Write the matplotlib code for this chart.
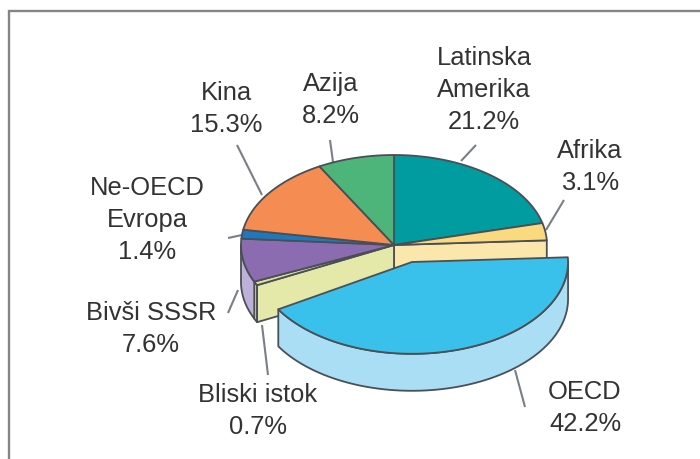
import numpy as np
import matplotlib
matplotlib.use("Agg")
import matplotlib.pyplot as plt
from matplotlib.patches import Polygon

names = ["Latinska\nAmerika", "Afrika", "OECD", "Bliski istok", "Bivši SSSR", "Ne-OECD\nEvropa", "Kina", "Azija"]
values = [21.2, 3.1, 42.2, 0.7, 7.6, 1.4, 15.3, 8.2]
# slice sizes as actually drawn in the picture (they differ a little from the printed percentages)
drawn_shares = [21.1, 3.1, 43.5, 0.7, 7.8, 1.6, 14.2, 8.1]
top_colors = ["#019C9F", "#FBD97F", "#39C1EC", "#DDE19A", "#8B6CB0", "#1F78BE", "#F58D52", "#4DB57A"]
side_colors = ["#7FCFCF", "#FBE7AC", "#A9DEF4", "#E4E8A8", "#BDB0DA", "#8FBCE0", "#FAC6A8", "#A6DABC"]
exploded = "OECD"

label_pos = [(484, 90), (590, 167), (585, 408), (258, 411), (151, 329), (147, 220), (226, 109), (331, 100)]
leaders = [((461, 161), (476, 145)), ((546, 230), (564, 200)), ((515, 370), (525, 407)),
           ((262, 325), (268, 375)), ((238, 290), (228, 313)), ((242, 235), (228, 238)),
           ((262, 195), (237, 145)), ((333, 162), (330, 140))]

CX, CY, RX, RY, DEPTH = 394, 245, 153, 90, 37
DX, DY, GROW = 18, 17, 1.02
EDGE = "#4A4F55"

fig = plt.figure(figsize=(7.0, 4.59), dpi=100)
ax = fig.add_axes([0, 0, 1, 1])
ax.set_xlim(0, 700)
ax.set_ylim(459, 0)
ax.axis("off")

ax.plot([9, 9, 700], [459, 11, 11], color="#858585", lw=1.7, solid_joinstyle="miter", zorder=1)


def arc(a0, a1, cx, cy, scale=1.0, n=80):
    t = np.radians(np.linspace(a0, a1, n))
    return np.column_stack([cx + scale * RX * np.cos(t), cy - scale * RY * np.sin(t)])


def poly(pts, fc, z):
    ax.add_patch(Polygon(pts, closed=True, fc=fc, ec=EDGE, lw=1.3, joinstyle="round", zorder=z))


ends = 90 - np.cumsum(drawn_shares) / sum(drawn_shares) * 360
starts = np.r_[90, ends[:-1]]

# outer walls of the unexploded slices (only the part facing the viewer)
for name, s, e, sc in zip(names, starts, ends, side_colors):
    if name == exploded or e >= 0 or s <= -180:
        continue
    a = arc(min(s, 0), max(e, -180), CX, CY)
    poly(np.vstack([a, a[::-1] + [0, DEPTH]]), sc, 2)

# faces opened up by pulling out the exploded slice
k = names.index(exploded)
for ang, sc in ((starts[k], side_colors[k - 1]), (ends[k], side_colors[k + 1])):
    p = arc(ang, ang, CX, CY, n=1)[0]
    poly([(CX, CY), p, p + [0, DEPTH], (CX, CY + DEPTH)], sc, 3)

# top faces
for name, s, e, c in zip(names, starts, ends, top_colors):
    if name == exploded:
        continue
    poly(np.vstack([[(CX, CY)], arc(s, e, CX, CY)]), c, 4)

# exploded slice: swept by its printed percentage
cx, cy = CX + DX, CY + DY
end_k = starts[k] - values[k] / 100 * 360
a = arc(0, end_k, cx, cy, GROW)
poly(np.vstack([a, a[::-1] + [0, DEPTH]]), side_colors[k], 5)
poly(np.vstack([[(cx, cy)], arc(starts[k], end_k, cx, cy, GROW)]), top_colors[k], 6)

# leader lines
for (p, q) in leaders:
    ax.plot([p[0], q[0]], [p[1], q[1]], color="#7A7F85", lw=1.5, zorder=1.5, solid_capstyle="butt")

# labels
for name, v, (x, y) in zip(names, values, label_pos):
    ax.text(x, y, f"{name}\n{v:.1f}%", ha="center", va="center", family="Liberation Sans",
            fontsize=18.4, color="#333333", linespacing=1.41, zorder=8)

fig.savefig("out.png", dpi=100)
